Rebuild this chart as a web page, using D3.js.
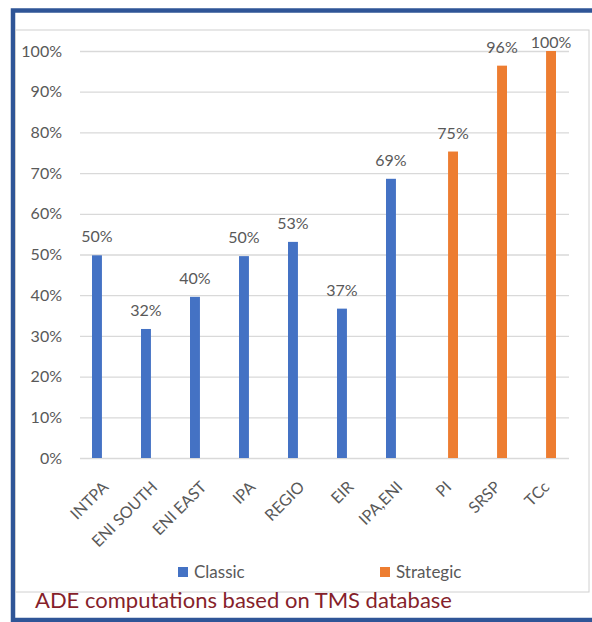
<!DOCTYPE html>
<html lang="en">
<head>
    <meta charset="utf-8" />
    <title>Classic vs Strategic</title>
    <script src="https://d3js.org/d3.v7.min.js"></script>
    <style>
        body { margin: 0; background: #fff; }
        svg { display: block; }
    </style>
</head>
<body>
    <script>
        var w = 592;
        var h = 622;

        // Data
        var categories = ["INTPA", "ENI SOUTH", "ENI EAST", "IPA", "REGIO", "EIR", "IPA,ENI", "PI", "SRSP", "TCc"];
        var series = ["Classic", "Strategic"];
        var classicValues = [0.498, 0.317, 0.396, 0.496, 0.531, 0.367, 0.686, null, null, null];
        var strategicValues = [null, null, null, null, null, null, null, 0.753, 0.964, 1.0];
        var yTicks = [0, 0.1, 0.2, 0.3, 0.4, 0.5, 0.6, 0.7, 0.8, 0.9, 1.0];

        var colors = { "Classic": "#4472C4", "Strategic": "#ED7D31" };
        var font = "Lato, 'Open Sans', sans-serif";
        var grey = "#595959";

        // build rows for the bars
        var bars = [];
        categories.forEach(function (c, i) {
            if (classicValues[i] != null) bars.push({ cat: c, s: "Classic", v: classicValues[i] });
            if (strategicValues[i] != null) bars.push({ cat: c, s: "Strategic", v: strategicValues[i] });
        });

        var svg = d3.select("body")
            .append("svg")
            .attr("width", w)
            .attr("height", h);

        // outer blue frame
        svg.append("rect")
            .attr("x", 13).attr("y", 10.5)
            .attr("width", 600).attr("height", 609.5)
            .attr("fill", "none")
            .attr("stroke", "#2F5597")
            .attr("stroke-width", 4.5);

        // chart area frame
        svg.append("rect")
            .attr("x", 15.5).attr("y", 30)
            .attr("width", 573.5).attr("height", 562)
            .attr("fill", "#fff")
            .attr("stroke", "#d0d0d0")
            .attr("stroke-width", 1);

        var xScale = d3.scaleBand()
            .domain(categories)
            .range([79, 569]);

        var bw = xScale.bandwidth();
        var xInner = d3.scaleBand()
            .domain(series)
            .range([bw / 2 - 11.5, bw / 2 + 11.5])
            .paddingInner(0.24);

        var yScale = d3.scaleLinear()
            .domain([0, 1])
            .range([458, 51]);

        // gridlines + y labels
        var yAxis = d3.axisLeft(yScale)
            .tickValues(yTicks)
            .tickFormat(d3.format(".0%"))
            .tickSize(-(569 - 80))
            .tickPadding(18);

        var gy = svg.append("g")
            .attr("transform", "translate(80,0)")
            .call(yAxis);
        gy.select(".domain").remove();
        gy.selectAll(".tick line").attr("stroke", "#d9d9d9").attr("stroke-width", 1.3);
        gy.selectAll(".tick text")
            .attr("fill", grey)
            .attr("font-family", font)
            .attr("font-size", "16px");

        // x labels, rotated
        var xAxis = d3.axisBottom(xScale).tickSize(0).tickPadding(0);
        var gx = svg.append("g")
            .attr("transform", "translate(0,458)")
            .call(xAxis);
        gx.select(".domain").remove();
        gx.selectAll(".tick text")
            .attr("fill", grey)
            .attr("font-family", font)
            .attr("font-size", "16px")
            .attr("text-anchor", "end")
            .attr("dy", null)
            .attr("transform", "translate(6,30) rotate(-45)");

        // bars
        svg.selectAll("rect.bar")
            .data(bars)
            .enter()
            .append("rect")
            .attr("class", "bar")
            .attr("x", function (d) { return xScale(d.cat) + xInner(d.s); })
            .attr("width", xInner.bandwidth())
            .attr("y", function (d) { return yScale(d.v); })
            .attr("height", function (d) { return yScale(0) - yScale(d.v); })
            .attr("fill", function (d) { return colors[d.s]; });

        // data labels (the top one is pushed down inside the frame)
        svg.selectAll("text.lbl")
            .data(bars)
            .enter()
            .append("text")
            .attr("class", "lbl")
            .attr("x", function (d) { return xScale(d.cat) + xInner(d.s) + xInner.bandwidth() / 2; })
            .attr("y", function (d) { return Math.max(yScale(d.v) - 13, 48); })
            .attr("text-anchor", "middle")
            .attr("fill", grey)
            .attr("font-family", font)
            .attr("font-size", "16px")
            .text(function (d) { return d3.format(".0%")(d.v); });

        // legend
        var legendX = [178, 380];
        var legend = svg.selectAll("g.legend")
            .data(series)
            .enter()
            .append("g")
            .attr("class", "legend")
            .attr("transform", function (d, i) { return "translate(" + legendX[i] + ",567)"; });
        legend.append("rect")
            .attr("width", 10).attr("height", 10)
            .attr("fill", function (d) { return colors[d]; });
        legend.append("text")
            .attr("x", 16).attr("y", 10.5)
            .attr("fill", grey)
            .attr("font-family", font)
            .attr("font-size", "17px")
            .text(function (d) { return d; });

        // source note
        svg.append("text")
            .attr("x", 35)
            .attr("y", 608)
            .attr("fill", "#861F2B")
            .attr("font-family", font)
            .attr("font-size", "22px")
            .text("ADE computations based on TMS database");
    </script>
</body>
</html>
